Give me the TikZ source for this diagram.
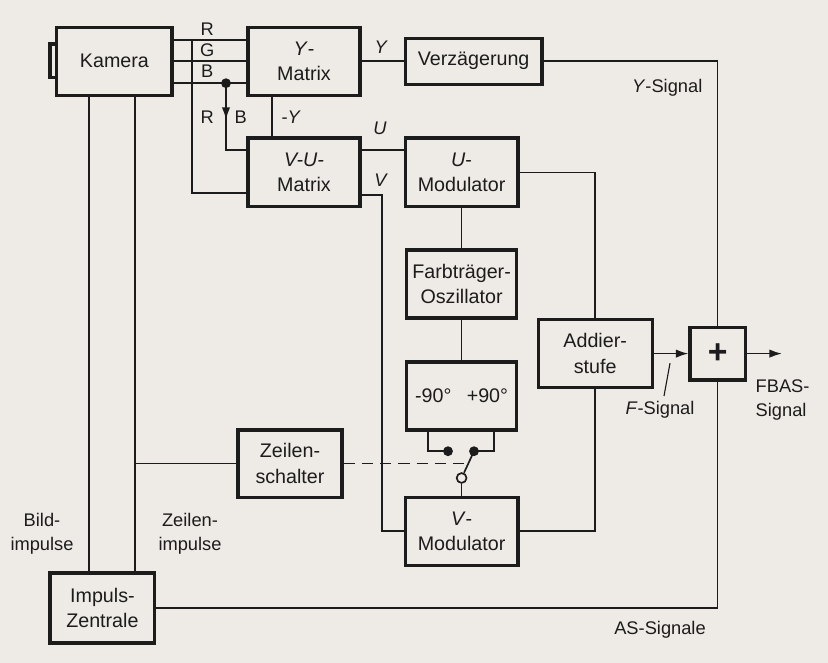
\documentclass[tikz,border=0pt]{standalone}
\usepackage{fontspec}
\setmainfont{Liberation Sans}
\usetikzlibrary{arrows.meta,calc}
\definecolor{papier}{RGB}{238,235,230}
\definecolor{tusche}{RGB}{28,28,28}
\begin{document}
\begin{tikzpicture}[
  block/.style={draw=tusche,text=tusche,line width=2.2pt,align=center,inner sep=0pt,font=\fontsize{14}{18}\selectfont},
  leitung/.style={draw=tusche,line width=1.2pt},
  lab/.style={text=tusche,align=center,inner sep=1pt,font=\fontsize{13}{17}\selectfont},
  pfeil/.style={leitung,-{Latex[length=9pt,width=6pt]}}]
\fill[papier] (0,0) rectangle (20.7,-16.575);
\useasboundingbox (0,0) rectangle (20.7,-16.575);
\node[block,minimum width=2.88cm,minimum height=1.7cm] (kam) at (2.86,-1.53) {Kamera};
\node[block,minimum width=2.8cm,minimum height=1.7cm] (ymat) at (7.6,-1.53) {\textit{Y}-\\Matrix};
\node[block,minimum width=3.42cm,minimum height=1.15cm] (verz) at (11.84,-1.53) {Verzägerung};
\node[block,minimum width=2.8cm,minimum height=1.72cm] (vumat) at (7.6,-4.31) {\textit{V-U-}\\Matrix};
\node[block,minimum width=2.82cm,minimum height=1.72cm] (umod) at (11.54,-4.31) {\textit{U}-\\Modulator};
\node[block,minimum width=2.75cm,minimum height=1.7cm] (osz) at (11.54,-7.1) {Farbträger-\\Oszillator};
\node[block,minimum width=2.75cm,minimum height=1.7cm] (phase) at (11.54,-9.9) {-90° \enspace +90°};
\node[block,minimum width=2.85cm,minimum height=1.7cm] (add) at (14.88,-8.84) {Addier-\\stufe};
\node[block,minimum width=1.38cm,minimum height=1.32cm,font=\fontsize{24}{24}\selectfont\bfseries] (plus) at (17.94,-8.84) {+};
\node[block,minimum width=2.6cm,minimum height=1.68cm] (zs) at (7.25,-11.59) {Zeilen-\\schalter};
\node[block,minimum width=2.82cm,minimum height=1.7cm] (vmod) at (11.54,-13.28) {\textit{V}-\\Modulator};
\node[block,minimum width=2.62cm,minimum height=1.75cm] (imp) at (2.56,-15.2) {Impuls-\\Zentrale};
\draw[line width=2.2pt,tusche] (1.4,-1.1) -- (1.25,-1.1) -- (1.25,-1.93) -- (1.4,-1.93);
\draw[leitung] ([yshift=.53cm]kam.east) -- ([yshift=.53cm]ymat.west);
\draw[leitung] (kam.east) -- (ymat.west);
\draw[leitung] ([yshift=-.55cm]kam.east) -- ([yshift=-.55cm]ymat.west);
\node[lab] (rlab) at (5.18,-0.72) {R};
\node[lab] (glab) at (5.18,-1.25) {G};
\node[lab] (blab) at (5.18,-1.78) {B};
\coordinate (rab) at (4.8,-1.0);
\coordinate (reck) at (4.8,-4.83);
\draw[leitung] (rab) -- (reck) -- (reck -| vumat.west);
\coordinate (bab) at (5.65,-2.08);
\coordinate (beck) at (5.65,-3.75);
\draw[leitung] (bab) -- (beck) -- (beck -| vumat.west);
\draw[pfeil] (bab) -- ($(bab)!.55!(beck)$);
\fill[tusche] (bab) circle (3.5pt);
\node[lab] (rlab2) at (5.18,-2.93) {R};
\node[lab] (blab2) at (6.02,-2.93) {B};
\draw[leitung] ([xshift=-.8cm]ymat.south) -- ([xshift=-.8cm]vumat.north);
\node[lab] (mylab) at (7.28,-2.93) {-\textit{Y}};
\draw[leitung] (ymat.east) -- (verz.west);
\node[lab] (ylab) at (9.53,-1.18) {\textit{Y}};
\draw[leitung] (verz.east) -| (plus.north);
\node[lab,anchor=east] (ysig) at (17.6,-2.2) {\textit{Y}-Signal};
\coordinate (uaus) at ([yshift=.56cm]vumat.east);
\draw[leitung] (uaus) -- (uaus -| umod.west);
\node[lab] (ulab) at (9.5,-3.2) {\textit{U}};
\coordinate (vaus) at ([yshift=-.57cm]vumat.east);
\coordinate (vknick) at (9.55,-4.88);
\draw[leitung] (vaus) -- (vknick) -- (vknick |- vmod.west) -- (vmod.west);
\node[lab] (vlab) at (9.53,-4.5) {\textit{V}};
\draw[leitung] (umod.east) -| (add.north);
\draw[leitung] (add.south) |- (vmod.east);
\draw[leitung] (umod.south) -- (osz.north);
\draw[leitung] (osz.south) -- (phase.north);
\coordinate (links) at ([xshift=-.84cm]phase.south);
\coordinate (rechts) at ([xshift=.81cm]phase.south);
\coordinate (kl) at (11.2,-11.28);
\coordinate (kr) at (11.85,-11.28);
\draw[leitung] (links) |- (kl);
\draw[leitung] (rechts) |- (kr);
\fill[tusche] (kl) circle (3.5pt);
\fill[tusche] (kr) circle (3.5pt);
\node[circle,draw=tusche,line width=1.2pt,fill=papier,inner sep=0pt,minimum size=7pt] (dreh) at (11.54,-11.95) {};
\draw[leitung] (dreh) -- (kr);
\draw[leitung] (dreh) -- (vmod.north);
\coordinate (hebel) at ($(dreh)!.5!(kr)$);
\draw[leitung,dash pattern=on 8pt off 5pt] (zs.east) -- (zs.east -| hebel);
\coordinate (bild) at ([xshift=-.64cm]kam.south);
\coordinate (zeile) at ([xshift=.52cm]kam.south);
\draw[leitung] (bild) -- (bild |- imp.north);
\draw[leitung] (zeile) -- (zeile |- imp.north);
\draw[leitung] (zs.west) -- (zs.west -| zeile);
\node[lab] (bildlab) at (1.05,-13.35) {Bild-\\impulse};
\node[lab] (zeilelab) at (4.75,-13.35) {Zeilen-\\impulse};
\draw[leitung] (imp.east) -| (plus.south);
\node[lab] (aslab) at (16.5,-15.75) {AS-Signale};
\draw[pfeil] (add.east) -- (plus.west);
\coordinate (fbas) at (19.55,-8.84);
\draw[pfeil] (plus.east) -- (fbas);
\node[lab,align=left,anchor=north west] (fbaslab) at (18.85,-9.45) {FBAS-\\Signal};
\coordinate (fa) at (16.75,-9.08);
\coordinate (fb) at (16.6,-9.9);
\draw[tusche,line width=.8pt] (fa) -- (fb);
\node[lab] (flab) at (16.5,-10.25) {\textit{F}-Signal};
\end{tikzpicture}
\end{document}
